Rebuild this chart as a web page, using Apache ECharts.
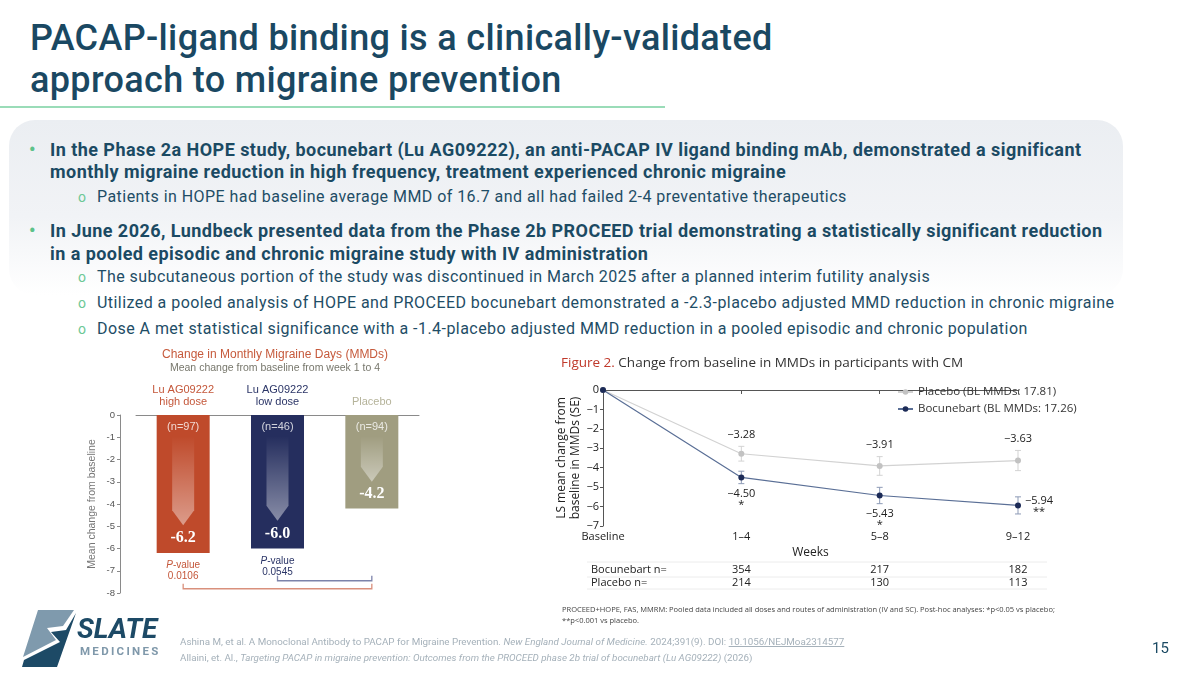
<!DOCTYPE html>
<html>
<head>
<meta charset="utf-8">
<title>PACAP-ligand binding</title>
<script src="https://cdn.jsdelivr.net/npm/echarts@6/dist/echarts.min.js"></script>
<style>
  body { margin: 0; width: 1200px; height: 676px; overflow: hidden; background: #fff; position: relative; font-family: Roboto, sans-serif; }
  #box { position: absolute; left: 9px; top: 120px; width: 1114px; height: 175px; border-radius: 26px;
         background: linear-gradient(#ebeef2 0%, #f1f3f6 55%, #ffffff 100%); }
  #title { position: absolute; left: 30px; top: 17px; font: 500 36px/42px Roboto; letter-spacing: 0.35px; color: #1a4862; white-space: nowrap; }
  #rule { position: absolute; left: 0; top: 106px; width: 665px; height: 2px; background: #9adcb8; }
  .bl { position: absolute; left: 50px; font: 700 18px/22px Roboto; letter-spacing: 0.45px; color: #1b4a63; white-space: nowrap; }
  .dot { position: absolute; left: 29px; font: 700 18px/22px Roboto; color: #5dc28a; }
  .sl { position: absolute; left: 97px; font: 400 16px/20px Roboto; letter-spacing: 0.45px; color: #1e4d66; white-space: nowrap; }
  .so { position: absolute; left: 78px; font: 400 14px/20px Roboto; color: #6cc896; }
  #refs { position: absolute; left: 180px; top: 634px; font: 400 9.8px/16px Roboto; color: #a5b1ba; white-space: nowrap; }
  #refs u { text-decoration: underline; }
  #page { position: absolute; left: 1152px; top: 639px; font: 400 15px Roboto; color: #1b4a63; }
  #chart { position: absolute; left: 0; top: 0; width: 1200px; height: 676px; }
  #logo { position: absolute; left: 0; top: 600px; }
</style>
</head>
<body>
<div id="box"></div>
<div id="title">PACAP-ligand binding is a clinically-validated<br>approach to migraine prevention</div>
<div id="rule"></div>

<div class="dot" style="top:139px">•</div>
<div class="bl" style="top:139px">In the Phase 2a HOPE study, bocunebart (Lu AG09222), an anti-PACAP IV ligand binding mAb, demonstrated a significant</div>
<div class="bl" style="top:161px">monthly migraine reduction in high frequency, treatment experienced chronic migraine</div>
<div class="so" style="top:187px">o</div>
<div class="sl" style="top:187px">Patients in HOPE had baseline average MMD of 16.7 and all had failed 2-4 preventative therapeutics</div>
<div class="dot" style="top:220px">•</div>
<div class="bl" style="top:220px">In June 2026, Lundbeck presented data from the Phase 2b PROCEED trial demonstrating a statistically significant reduction</div>
<div class="bl" style="top:243px">in a pooled episodic and chronic migraine study with IV administration</div>
<div class="so" style="top:267px">o</div>
<div class="sl" style="top:267px">The subcutaneous portion of the study was discontinued in March 2025 after a planned interim futility analysis</div>
<div class="so" style="top:293px">o</div>
<div class="sl" style="top:293px">Utilized a pooled analysis of HOPE and PROCEED bocunebart demonstrated a -2.3-placebo adjusted MMD reduction in chronic migraine</div>
<div class="so" style="top:319px">o</div>
<div class="sl" style="top:319px">Dose A met statistical significance with a -1.4-placebo adjusted MMD reduction in a pooled episodic and chronic population</div>

<div id="chart"></div>

<svg id="logo" width="170" height="76" xmlns="http://www.w3.org/2000/svg">
  <polygon points="38,10 74,10 63,26 47,28 56,40 23,57" fill="#7f9aad"/>
  <polygon points="76,13 57,67 22,67 24,60 60,42 51,32 66,30" fill="#1d4a66"/>
  <text x="77" y="38" font-family="Roboto" font-weight="700" font-style="italic" font-size="28" fill="#1d4a66">SLATE</text>
  <text x="80" y="55" font-family="Roboto" font-weight="700" font-size="11.5" letter-spacing="2.3" fill="#7f98aa">MEDICINES</text>
</svg>

<div id="refs">Ashina M, et al. A Monoclonal Antibody to PACAP for Migraine Prevention. <i>New England Journal of Medicine.</i> 2024;391(9). DOI: <u>10.1056/NEJMoa2314577</u><br>Allaini, et. Al., <i>Targeting PACAP in migraine prevention: Outcomes from the PROCEED phase 2b trial of bocunebart (Lu AG09222)</i> (2026)</div>
<div id="page">15</div>

<script>
// left panel: HOPE study bars
var barCats = ['Lu AG09222\nhigh dose', 'Lu AG09222\nlow dose', 'Placebo'];
var barValues = [-6.2, -6.0, -4.2];
var barN = [97, 46, 94];
var arrowTips = [-4.95, -4.75, -3.0];
var pValues = ['0.0106', '0.0545'];
var brackets = [[1, 2], [0, 2]];

// right panel: PROCEED + HOPE pooled, CM participants
var weeks = ['Baseline', '1–4', '5–8', '9–12'];
var placebo = [0, -3.28, -3.91, -3.63];
var placeboSE = [0, 0.38, 0.48, 0.52];
var bocu = [0, -4.50, -5.43, -5.94];
var bocuSE = [0, 0.32, 0.42, 0.44];
var sig = ['', '*', '*', '**'];
var bocuN = ['', '354', '217', '182'];
var placeboN = ['', '214', '130', '113'];

var barColors = ['#bf4a2b', '#252e5e', '#a09d80'];
var catColors = ['#c4573a', '#2b3567', '#b5b39a'];
var pxPerUnit = 136 / 7;

function minus(v) {
  return (v < 0 ? '\u2212' : '') + Math.abs(v).toFixed(2);
}

function errorBars(vals, se, color) {
  return {
    type: 'custom', xAxisIndex: 1, yAxisIndex: 1, silent: true, z: 1,
    data: vals.map(function(v, i) { return [i, v - se[i], v + se[i]]; }).filter(function(d) { return d[0] > 0; }),
    renderItem: function(params, api) {
      var lo = api.coord([api.value(0), api.value(1)]);
      var hi = api.coord([api.value(0), api.value(2)]);
      var x = lo[0], c = 3;
      var st = { stroke: color, lineWidth: 1 };
      return { type: 'group', children: [
        { type: 'line', shape: { x1: x, y1: lo[1], x2: x, y2: hi[1] }, style: st },
        { type: 'line', shape: { x1: x - c, y1: lo[1], x2: x + c, y2: lo[1] }, style: st },
        { type: 'line', shape: { x1: x - c, y1: hi[1], x2: x + c, y2: hi[1] }, style: st }
      ]};
    }
  };
}

var chart = echarts.init(document.getElementById('chart'));

var option = {
  animation: false,
  textStyle: { fontFamily: '"Open Sans", sans-serif' },
  grid: [
    { left: 136, top: 415, width: 283, height: 178 },
    { left: 603, top: 390, width: 415, height: 136 }
  ],
  legend: {
    data: ['Placebo (BL MMDs: 17.81)', 'Bocunebart (BL MMDs: 17.26)'],
    orient: 'vertical', left: 897, top: 386, padding: 0,
    itemWidth: 15, itemHeight: 7, itemGap: 5,
    textStyle: { fontSize: 11.5, color: '#333', fontFamily: '"Open Sans"' }
  },
  xAxis: [
    {
      gridIndex: 0, type: 'category', data: barCats, position: 'top',
      axisLine: { lineStyle: { color: '#8a8a8a' } },
      axisTick: { alignWithLabel: true, length: 5, lineStyle: { color: '#8a8a8a' } },
      axisLabel: {
        interval: 0, margin: 7, fontSize: 11, lineHeight: 12, fontFamily: '"Liberation Sans"',
        formatter: function(v, i) {
          return v.split('\n').map(function(s) { return '{c' + i + '|' + s + '}'; }).join('\n');
        },
        rich: {
          c0: { color: catColors[0], fontSize: 11, fontFamily: '"Liberation Sans"', lineHeight: 12 },
          c1: { color: catColors[1], fontSize: 11, fontFamily: '"Liberation Sans"', lineHeight: 12 },
          c2: { color: catColors[2], fontSize: 11, fontFamily: '"Liberation Sans"', lineHeight: 12 }
        }
      }
    },
    {
      gridIndex: 1, type: 'category', data: weeks, boundaryGap: false,
      axisLine: { lineStyle: { color: '#555' } },
      axisTick: { length: 4, lineStyle: { color: '#555' } },
      axisLabel: { fontSize: 11, color: '#222', margin: 5 },
      name: 'Weeks', nameLocation: 'middle', nameGap: 21,
      nameTextStyle: { fontSize: 12, color: '#222' }
    },
    {
      gridIndex: 1, type: 'category', data: bocuN, boundaryGap: false, position: 'bottom', offset: 38,
      axisLine: { show: false }, axisTick: { show: false },
      axisLabel: { fontSize: 11, color: '#222', margin: 0, interval: 0 }
    },
    {
      gridIndex: 1, type: 'category', data: placeboN, boundaryGap: false, position: 'bottom', offset: 51,
      axisLine: { show: false }, axisTick: { show: false },
      axisLabel: { fontSize: 11, color: '#222', margin: 0, interval: 0 }
    }
  ],
  yAxis: [
    {
      gridIndex: 0, type: 'value', min: -8, max: 0, interval: 1, offset: 16,
      axisLine: { show: true, lineStyle: { color: '#8a8a8a' } },
      axisTick: { show: true, length: 3, lineStyle: { color: '#8a8a8a' } },
      splitLine: { show: false },
      axisLabel: { fontSize: 9.5, color: '#555', margin: 5, fontFamily: '"Liberation Sans"' },
      name: 'Mean change from baseline', nameLocation: 'middle', nameGap: 22,
      nameTextStyle: { fontSize: 10.5, color: '#777', fontFamily: '"Liberation Sans"' }
    },
    {
      gridIndex: 1, type: 'value', min: -7, max: 0, interval: 1,
      axisLine: { show: true, lineStyle: { color: '#555' } },
      axisTick: { show: true, length: 3, lineStyle: { color: '#555' } },
      splitLine: { show: false },
      axisLabel: { fontSize: 11, color: '#222', margin: 4, formatter: function(v) { return v < 0 ? '\u2212' + Math.abs(v) : String(v); } },
      name: 'LS mean change from\nbaseline in MMDs (SE)', nameLocation: 'middle', nameGap: 11,
      nameTextStyle: { fontSize: 12, color: '#222', lineHeight: 14 }
    }
  ],
  series: [
    {
      type: 'bar', xAxisIndex: 0, yAxisIndex: 0, barWidth: 53, silent: true,
      data: barValues.map(function(v, i) { return { value: v, itemStyle: { color: barColors[i] } }; }),
      label: {
        show: true, position: 'insideBottom', distance: 7,
        formatter: function(p) { return p.value.toFixed(1); },
        color: '#fff', fontSize: 16, fontWeight: 'bold', fontFamily: '"Liberation Serif", "DejaVu Serif", serif'
      }
    },
    {
      type: 'custom', xAxisIndex: 0, yAxisIndex: 0, silent: true, z: 3,
      data: arrowTips.map(function(t, i) { return [i, t]; }),
      renderItem: function(params, api) {
        var i = api.value(0);
        var top = api.coord([i, -0.95]);
        var tip = api.coord([i, api.value(1)]);
        var zero = api.coord([i, 0]);
        var x = top[0], w = 11, h = 15;
        return { type: 'group', children: [
          { type: 'polygon',
            shape: { points: [[x - w, top[1]], [x + w, top[1]], [x + w, tip[1] - h], [x, tip[1]], [x - w, tip[1] - h]] },
            style: { fill: new echarts.graphic.LinearGradient(0, 0, 0, 1, [
              { offset: 0, color: 'rgba(255,255,255,0)' },
              { offset: 1, color: 'rgba(255,255,255,0.45)' }
            ]) } },
          { type: 'text', x: x, y: zero[1] + 12,
            style: { text: '(n=' + barN[i] + ')', align: 'center', verticalAlign: 'middle', textAlign: 'center', textVerticalAlign: 'middle',
                     fill: 'rgba(255,255,255,0.78)', fontSize: 11, fontFamily: '"Liberation Sans"' } }
        ]};
      }
    },
    {
      type: 'custom', xAxisIndex: 0, yAxisIndex: 0, silent: true, z: 3,
      data: pValues.map(function(p, i) { return [i, barValues[i]]; }),
      renderItem: function(params, api) {
        var i = api.value(0);
        var pt = api.coord([i, api.value(1)]);
        return { type: 'text', x: pt[0], y: pt[1] + 7,
          style: { text: '{i|P}-value\n' + pValues[i], align: 'center', verticalAlign: 'top', textAlign: 'center', textVerticalAlign: 'top',
                   fill: catColors[i], fontSize: 10, lineHeight: 11, fontFamily: '"Liberation Sans"',
                   rich: { i: { fontStyle: 'italic', fill: catColors[i], fontSize: 10, fontFamily: '"Liberation Sans"' } } } };
      }
    },
    {
      type: 'custom', xAxisIndex: 0, yAxisIndex: 0, silent: true, z: 3,
      data: brackets.map(function(b, k) { return [b[0], b[1], k]; }),
      renderItem: function(params, api) {
        var lvl = -7.45 - api.value(2) * 0.36;
        var a = api.coord([api.value(0), lvl]);
        var b = api.coord([api.value(1), lvl]);
        var col = api.value(0) === 0 ? '#d9907c' : '#7c83aa';
        return { type: 'polyline',
          shape: { points: [[a[0], a[1] - 5], [a[0], a[1]], [b[0], b[1]], [b[0], b[1] - 5]] },
          style: { stroke: col, lineWidth: 1.3, fill: null } };
      }
    },
    errorBars(placebo, placeboSE, '#d3d3d3'),
    errorBars(bocu, bocuSE, '#8d9bb6'),
    {
      name: 'Placebo (BL MMDs: 17.81)', type: 'line', xAxisIndex: 1, yAxisIndex: 1, z: 3,
      symbol: 'circle', symbolSize: 6,
      lineStyle: { color: '#d2d2d2', width: 1.2 },
      itemStyle: { color: '#c2c2c2' },
      data: placebo.map(function(v, i) {
        return { value: v, label: { show: i > 0, position: 'top', distance: placeboSE[i] * pxPerUnit + 3 } };
      }),
      label: { formatter: function(p) { return minus(p.value); }, fontSize: 11, color: '#222' }
    },
    {
      name: 'Bocunebart (BL MMDs: 17.26)', type: 'line', xAxisIndex: 1, yAxisIndex: 1, z: 4,
      symbol: 'circle', symbolSize: 6,
      lineStyle: { color: '#5a6f96', width: 1.2 },
      itemStyle: { color: '#1c2b57' },
      data: bocu.map(function(v, i) {
        var last = i === bocu.length - 1;
        return { value: v, label: {
          show: i > 0,
          position: last ? 'right' : 'bottom',
          align: last ? 'left' : 'center',
          distance: last ? 4 : bocuSE[i] * pxPerUnit + 1
        } };
      }),
      label: {
        formatter: function(p) { return '{v|' + minus(p.value) + '}\n{s|' + sig[p.dataIndex] + '}'; },
        rich: {
          v: { fontSize: 11, color: '#222', lineHeight: 12, align: 'center' },
          s: { fontSize: 11, color: '#222', lineHeight: 10, align: 'center' }
        }
      }
    }
  ],
  graphic: [
    { type: 'text', x: 275, y: 355,
      style: { text: 'Change in Monthly Migraine Days (MMDs)', align: 'center', verticalAlign: 'middle', textAlign: 'center', textVerticalAlign: 'middle',
               fill: '#c65a3c', fontSize: 12, fontFamily: '"Liberation Sans"' } },
    { type: 'text', x: 275, y: 368,
      style: { text: 'Mean change from baseline from week 1 to 4', align: 'center', verticalAlign: 'middle', textAlign: 'center', textVerticalAlign: 'middle',
               fill: '#77776c', fontSize: 10.5, fontFamily: '"Liberation Sans"' } },
    { type: 'text', x: 561, y: 363,
      style: { text: '{r|Figure 2.} Change from baseline in MMDs in participants with CM', verticalAlign: 'middle', textVerticalAlign: 'middle',
               fill: '#333', fontSize: 13.5, fontFamily: '"Open Sans"',
               rich: { r: { fill: '#c0392b', fontSize: 13.5, fontFamily: '"Open Sans"' } } } },
    { type: 'line', shape: { x1: 587, y1: 562, x2: 1047, y2: 562 }, style: { stroke: '#ececec', lineWidth: 1 } },
    { type: 'line', shape: { x1: 587, y1: 577, x2: 1047, y2: 577 }, style: { stroke: '#ececec', lineWidth: 1 } },
    { type: 'line', shape: { x1: 587, y1: 589, x2: 1047, y2: 589 }, style: { stroke: '#ececec', lineWidth: 1 } },
    { type: 'text', x: 591, y: 570,
      style: { text: 'Bocunebart n=', verticalAlign: 'middle', textVerticalAlign: 'middle', fill: '#222', fontSize: 11, fontFamily: '"Open Sans"' } },
    { type: 'text', x: 591, y: 583,
      style: { text: 'Placebo n=', verticalAlign: 'middle', textVerticalAlign: 'middle', fill: '#222', fontSize: 11, fontFamily: '"Open Sans"' } },
    { type: 'text', x: 562, y: 604,
      style: { text: 'PROCEED+HOPE, FAS, MMRM: Pooled data included all doses and routes of administration (IV and SC). Post-hoc analyses: *p<0.05 vs placebo;\n**p<0.001 vs placebo.',
               fill: '#444', fontSize: 7.5, lineHeight: 11, fontFamily: '"Open Sans"' } }
  ]
};

chart.setOption(option);
</script>
</body>
</html>
